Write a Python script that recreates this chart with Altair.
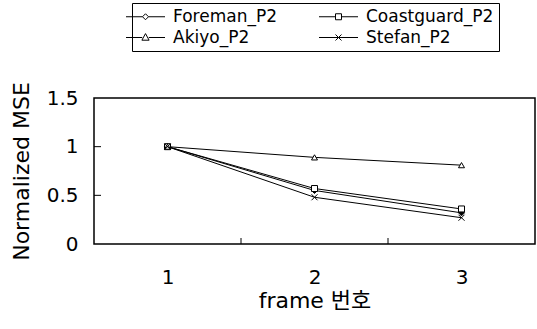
import altair as alt
import pandas as pd

frames = [1, 2, 3]
series_names = ["Foreman_P2", "Coastguard_P2", "Akiyo_P2", "Stefan_P2"]
foreman = [1.0, 0.55, 0.32]
coastguard = [1.0, 0.57, 0.36]
akiyo = [1.0, 0.89, 0.81]
stefan = [1.0, 0.48, 0.27]
y_tick_values = [0, 0.5, 1, 1.5]
x_boundary_ticks = [1.5, 2.5]
y_inner_ticks = [0.5, 1.0]

rows = []
for name, vals in zip(series_names, [foreman, coastguard, akiyo, stefan]):
    for f, v in zip(frames, vals):
        rows.append({"frame": f, "mse": v, "series": name})
df = pd.DataFrame(rows)

FONT = "DejaVu Sans, Noto Sans CJK KR"

x_enc = alt.X("frame:Q", scale=alt.Scale(domain=[0.5, 3.5], nice=False, zero=False),
              axis=alt.Axis(values=frames, format="d", ticks=False, tickSize=0,
                            domain=False, grid=False, labelFontSize=20, labelFont=FONT,
                            labelColor="black", labelPadding=23,
                            title="frame 번호", titleFont=FONT, titleFontSize=22,
                            titleFontWeight="normal", titleColor="black", titlePadding=3))
y_enc = alt.Y("mse:Q", scale=alt.Scale(domain=[0, 1.5], nice=False),
              axis=alt.Axis(values=y_tick_values, format="~g", ticks=False, tickSize=0,
                            domain=False, grid=False, labelFontSize=20, labelFont=FONT,
                            labelColor="black", labelPadding=16,
                            title="Normalized MSE", titleFont=FONT, titleFontSize=22,
                            titleFontWeight="normal", titleColor="black", titlePadding=13))

lines = alt.Chart(df).mark_line(color="black", strokeWidth=1).encode(
    x=x_enc, y=y_enc, detail="series:N")

marker_shapes = ["diamond", "square", "triangle-up", "M-1,-1L1,1M-1,1L1,-1"]
marker_fills = ["black", "white", "white", "white"]
points = alt.Chart(df).mark_point(filled=False, stroke="black", strokeWidth=1,
                                  size=36, fillOpacity=1).encode(
    x="frame:Q", y="mse:Q",
    shape=alt.Shape("series:N", scale=alt.Scale(domain=series_names, range=marker_shapes),
                    legend=None),
    fill=alt.Fill("series:N", scale=alt.Scale(domain=series_names, range=marker_fills),
                  legend=None),
)

# legend order (column-major fill): Foreman, Akiyo | Coastguard, Stefan
legend_order = ["Foreman_P2", "Akiyo_P2", "Coastguard_P2", "Stefan_P2"]
legend_paths = [
    "M-6.5,0H-1M1,0H6.5M0,-1L1,0L0,1L-1,0Z",
    "M-6.5,0H-1.1M1.1,0H6.5M0,-1.3L1.2,0.9H-1.2Z",
    "M-6.5,0H-1M1,0H6.5M-1,-1H1V1H-1Z",
    "M-6.5,0H6.5M-1,-1L1,1M-1,1L1,-1",
]
legend_layer = alt.Chart(df).mark_point(filled=False, color="black", opacity=0).encode(
    x="frame:Q", y="mse:Q",
    shape=alt.Shape("series:N",
                    scale=alt.Scale(domain=legend_order, range=legend_paths),
                    legend=alt.Legend(title=None, orient="none", legendX=38, legendY=-95,
                                      columns=2, columnPadding=40, rowPadding=3,
                                      symbolSize=36, symbolStrokeColor="black",
                                      symbolStrokeWidth=1, symbolOpacity=1,
                                      symbolFillColor="transparent",
                                      labelOffset=19, labelFont=FONT, labelFontSize=17,
                                      labelColor="black", labelLimit=300,
                                      strokeColor="black", padding=5)),
)

xt = pd.DataFrame({"x": x_boundary_ticks})
x_ticks = alt.Chart(xt).mark_rule(color="black", strokeWidth=1).encode(
    x="x:Q", y=alt.value(146), y2=alt.value(140))
yt = pd.DataFrame({"y": y_inner_ticks})
y_ticks = alt.Chart(yt).mark_rule(color="black", strokeWidth=1).encode(
    y="y:Q", x=alt.value(0), x2=alt.value(7))

chart = alt.layer(lines, points, legend_layer, x_ticks, y_ticks).resolve_scale(
    shape="independent", fill="independent"
).properties(
    width=441, height=146,
    autosize=alt.AutoSizeParams(type="none"),
    padding={"left": 94, "top": 98, "right": 2, "bottom": 85},
    background="white",
).configure_view(stroke="black", strokeWidth=1.5)

chart.save("out.html", embed_options={"renderer": "svg", "actions": False})
